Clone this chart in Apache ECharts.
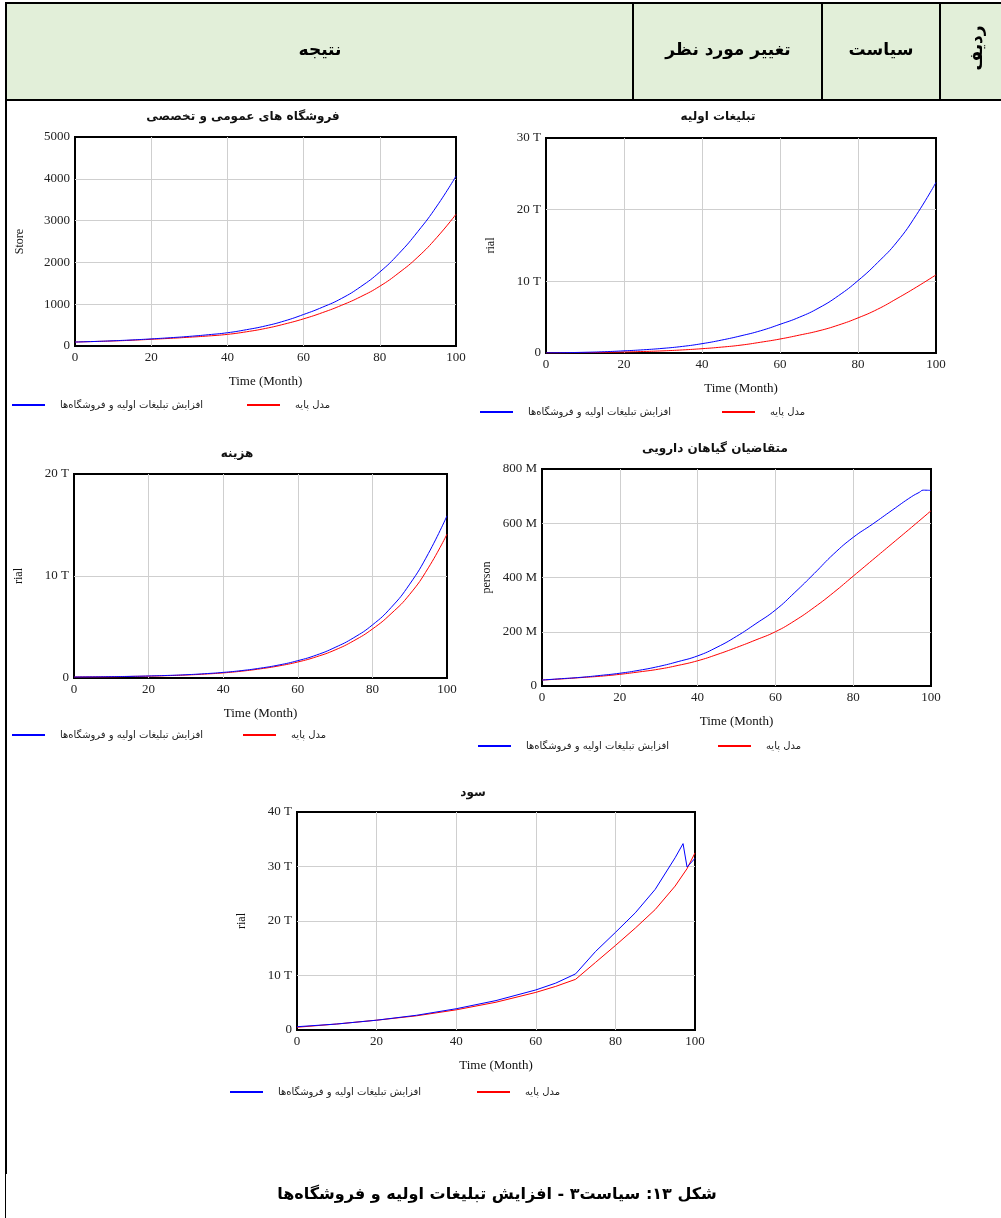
<!DOCTYPE html>
<html>
<head>
<meta charset="utf-8">
<script src="https://cdn.jsdelivr.net/npm/echarts@6/dist/echarts.min.js"></script>
<style>
html,body{margin:0;padding:0;background:#fff;}
#c{width:1001px;height:1218px;}
</style>
</head>
<body>
<div id="c"></div>
<script>
// ---------- DATA ----------
const nameBlue = 'افزایش تبلیغات اولیه و فروشگاه‌ها';
const nameRed = 'مدل پایه';
const chartTitles = ['فروشگاه های عمومی و تخصصی', 'تبلیغات اولیه', 'هزینه', 'متقاضیان گیاهان دارویی', 'سود'];
const yNames = ['Store', 'rial', 'rial', 'person', 'rial'];
const xName = 'Time (Month)';
const headerLabels = ['نتیجه', 'تغییر مورد نظر', 'سیاست', 'ردیف'];
const caption = 'شکل ۱۳: سیاست۳ - افزایش تبلیغات اولیه و فروشگاه‌ها';

const xTicks = [0, 20, 40, 60, 80, 100];
const yMax = [5000, 30, 20, 800, 40];
const yStep = [1000, 10, 10, 200, 10];
const ySuffix = ['', ' T', ' T', ' M', ' T'];

const months5 = [0, 5, 10, 15, 20, 25, 30, 35, 40, 45, 50, 55, 60, 65, 70, 75, 80, 85, 90, 95, 100];
// Chart 1: stores
const storeBlue = [95, 108, 125, 145, 170, 198, 230, 270, 317, 390, 480, 600, 754, 930, 1140, 1420, 1770, 2210, 2740, 3350, 4063];
const storeRed = [95, 107, 120, 138, 160, 183, 210, 240, 278, 340, 420, 525, 650, 800, 975, 1180, 1430, 1750, 2130, 2600, 3150];
// Chart 2: initial advertising (T rial)
const advBlue = [0.02, 0.05, 0.1, 0.18, 0.3, 0.45, 0.65, 0.92, 1.3, 1.8, 2.4, 3.1, 4.0, 5.0, 6.3, 8.0, 10.1, 12.6, 15.5, 19.3, 23.8];
const advRed = [0.01, 0.03, 0.05, 0.09, 0.14, 0.21, 0.3, 0.43, 0.6, 0.82, 1.1, 1.5, 1.95, 2.5, 3.1, 3.9, 4.9, 6.1, 7.6, 9.2, 10.9];
// Chart 3: cost (T rial)
const costBlue = [0.1, 0.11, 0.13, 0.16, 0.2, 0.25, 0.32, 0.42, 0.55, 0.73, 0.97, 1.28, 1.7, 2.25, 3.0, 3.95, 5.2, 6.9, 9.2, 12.2, 15.9];
const costRed = [0.1, 0.11, 0.12, 0.15, 0.18, 0.23, 0.29, 0.38, 0.5, 0.67, 0.9, 1.19, 1.57, 2.08, 2.75, 3.65, 4.8, 6.3, 8.2, 10.8, 14.1];
// Chart 4: demand (M person)
const demandMonthsBlue = [0, 5, 10, 15, 20, 25, 30, 35, 40, 45, 50, 55, 60, 65, 70, 75, 80, 85, 90, 95, 97, 98, 100];
const demandBlue = [22, 27, 32, 39, 47, 58, 72, 90, 111, 143, 183, 230, 280, 345, 415, 487, 548, 597, 648, 698, 714, 722, 721];
const demandRed = [22, 26, 31, 36, 43, 52, 62, 76, 93, 116, 142, 170, 200, 241, 290, 345, 405, 465, 525, 585, 646];
// Chart 5: profit (T rial)
const profitMonthsBlue = [0, 10, 20, 30, 40, 50, 60, 65, 70, 75, 80, 85, 90, 95, 97, 98, 100];
const profitBlue = [0.6, 1.1, 1.8, 2.7, 3.9, 5.4, 7.35, 8.6, 10.3, 14.4, 17.9, 21.5, 25.8, 31.6, 34.2, 29.9, 31.5];
const profitMonthsRed = [0, 10, 20, 30, 40, 50, 60, 65, 70, 75, 80, 85, 90, 95, 98, 100];
const profitRed = [0.5, 1.1, 1.8, 2.6, 3.7, 5.1, 6.9, 8.0, 9.3, 12.4, 15.5, 18.7, 22.1, 26.4, 29.6, 32.5];

// ---------- BUILD ----------
const zip = (xs, ys) => xs.map((x, i) => [x, ys[i]]);
const seriesData = [
  [zip(months5, storeBlue), zip(months5, storeRed)],
  [zip(months5, advBlue), zip(months5, advRed)],
  [zip(months5, costBlue), zip(months5, costRed)],
  [zip(demandMonthsBlue, demandBlue), zip(months5, demandRed)],
  [zip(profitMonthsBlue, profitBlue), zip(profitMonthsRed, profitRed)]
];
const smoothFlags = [0.5, 0.5, 0.5, 0.5, false];

const grids = [
  {left: 75, top: 137, width: 381, height: 209},
  {left: 546, top: 138, width: 390, height: 215},
  {left: 74, top: 474, width: 373, height: 204},
  {left: 542, top: 469, width: 389, height: 217},
  {left: 297, top: 812, width: 398, height: 218}
];
const titlePos = [[243, 117], [718, 117], [237, 454], [715, 449], [473, 793]];
const legendPos = [[12, 247, 406], [480, 722, 413], [12, 243, 736], [478, 718, 747], [230, 477, 1093]];

const SERIF = '"Liberation Serif","Times New Roman",serif';
const AR = '"DejaVu Sans",sans-serif';
const BLUE = '#0000ff', RED = '#ff0000';

const option = {
  animation: false,
  backgroundColor: '#fff',
  grid: grids.map(g => Object.assign({show: true, borderColor: '#000', borderWidth: 2, backgroundColor: 'transparent', containLabel: false}, g)),
  xAxis: grids.map((g, i) => ({
    type: 'value', gridIndex: i, min: 0, max: 100, interval: 20,
    name: xName, nameLocation: 'middle', nameGap: 29,
    nameTextStyle: {fontFamily: SERIF, fontSize: 13, color: '#111'},
    axisLine: {show: false}, axisTick: {show: false},
    axisLabel: {fontFamily: SERIF, fontSize: 13, color: '#222', margin: 5},
    splitLine: {show: true, showMinLine: false, showMaxLine: false, lineStyle: {color: '#cfcfcf', width: 1}}
  })),
  yAxis: grids.map((g, i) => ({
    type: 'value', gridIndex: i, min: 0, max: yMax[i], interval: yStep[i],
    name: yNames[i], nameLocation: 'middle', nameGap: 49, nameRotate: 90,
    nameTextStyle: {fontFamily: SERIF, fontSize: 12, color: '#111'},
    axisLine: {show: false}, axisTick: {show: false},
    axisLabel: {fontFamily: SERIF, fontSize: 13, color: '#222', margin: 5,
      formatter: v => v === 0 ? '0' : (v + ySuffix[i])},
    splitLine: {show: true, showMinLine: false, showMaxLine: false, lineStyle: {color: '#cfcfcf', width: 1}}
  })),
  legend: [],
  series: [],
  graphic: []
};

for (let i = 0; i < 5; i++) {
  option.series.push({
    type: 'line', name: nameBlue, xAxisIndex: i, yAxisIndex: i, data: seriesData[i][0],
    showSymbol: false, smooth: smoothFlags[i],
    lineStyle: {color: BLUE, width: 1}, itemStyle: {color: BLUE}, z: 3
  });
  option.series.push({
    type: 'line', name: nameRed, xAxisIndex: i, yAxisIndex: i, data: seriesData[i][1],
    showSymbol: false, smooth: smoothFlags[i],
    lineStyle: {color: RED, width: 1}, itemStyle: {color: RED}, z: 2
  });
  const lp = legendPos[i];
  [[nameBlue, BLUE, lp[0]], [nameRed, RED, lp[1]]].forEach(([nm, col, lx]) => {
    option.legend.push({
      data: [nm], left: lx, top: lp[2] - 6, icon: 'rect', itemWidth: 33, itemHeight: 2,
      selectedMode: false, padding: 0,
      itemStyle: {color: col},
      textStyle: {fontFamily: AR, fontSize: 10, color: '#222', padding: [0, 0, 0, 10]}
    });
  });
  option.graphic.push({
    type: 'text', x: titlePos[i][0], y: titlePos[i][1],
    style: {text: chartTitles[i], font: 'bold 12px ' + AR, fill: '#111', align: 'center', verticalAlign: 'middle'}
  });
}

// header table
option.graphic.push(
  {type: 'rect', shape: {x: 6, y: 3, width: 995, height: 97}, style: {fill: '#e2efd9'}, z: -10},
  {type: 'rect', shape: {x: 5, y: 2, width: 996, height: 2}, style: {fill: '#000'}},
  {type: 'rect', shape: {x: 5, y: 99, width: 996, height: 2}, style: {fill: '#000'}},
  {type: 'rect', shape: {x: 5, y: 2, width: 2, height: 1172}, style: {fill: '#000'}},
  {type: 'rect', shape: {x: 5, y: 1174, width: 1, height: 44}, style: {fill: '#000'}},
  {type: 'rect', shape: {x: 632, y: 2, width: 2, height: 99}, style: {fill: '#000'}},
  {type: 'rect', shape: {x: 821, y: 2, width: 2, height: 99}, style: {fill: '#000'}},
  {type: 'rect', shape: {x: 939, y: 2, width: 2, height: 99}, style: {fill: '#000'}},
  {type: 'text', x: 320, y: 51, style: {text: headerLabels[0], font: 'bold 17px ' + AR, fill: '#000', align: 'center', verticalAlign: 'middle'}},
  {type: 'text', x: 728, y: 51, style: {text: headerLabels[1], font: 'bold 17px ' + AR, fill: '#000', align: 'center', verticalAlign: 'middle'}},
  {type: 'text', x: 881, y: 51, style: {text: headerLabels[2], font: 'bold 17px ' + AR, fill: '#000', align: 'center', verticalAlign: 'middle'}},
  {type: 'text', x: 978, y: 48, rotation: Math.PI / 2, style: {text: headerLabels[3], font: 'bold 17px ' + AR, fill: '#000', align: 'center', verticalAlign: 'middle'}},
  {type: 'text', x: 497, y: 1195, style: {text: caption, font: 'bold 16px ' + AR, fill: '#000', align: 'center', verticalAlign: 'middle'}}
);

const chart = echarts.init(document.getElementById('c'), null, {renderer: 'canvas'});
chart.setOption(option);
</script>
</body>
</html>
